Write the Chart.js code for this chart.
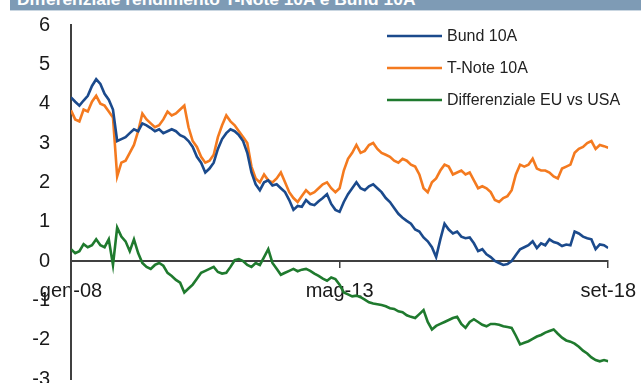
<!DOCTYPE html>
<html>
<head>
<meta charset="utf-8">
<script src="https://cdn.jsdelivr.net/npm/chart.js@4.4.1/dist/chart.umd.min.js"></script>
<style>
  html, body { margin: 0; padding: 0; background: #fff; overflow: hidden; }
  #wrap { position: relative; width: 641px; height: 383px; overflow: hidden; }
  #grafico { position: absolute; left: 0; top: -8px; }
  #titolo {
    position: absolute; left: 10px; top: 0; width: 631px; height: 10px;
    background: #7e9bb5; border-bottom: 1px solid #c9d6e1; overflow: hidden;
  }
  #titolo span {
    position: absolute; left: 7px; bottom: 0; line-height: 1; white-space: nowrap;
    font: bold 17.4px Arial, "Liberation Sans", sans-serif; color: #fff;
  }
</style>
</head>
<body>
<div id="wrap">
  <canvas id="grafico" width="648" height="420"></canvas>
  <div id="titolo"><span>Differenziale rendimento T-Note 10A e Bund 10A</span></div>
</div>
<script>
// rendimenti mensili, da gen-08 a set-18
var bund = [
  4.16, 4.05, 3.95, 4.08, 4.2, 4.45, 4.62, 4.5, 4.25, 4.1, 3.85, 3.05,
  3.1, 3.15, 3.25, 3.35, 3.3, 3.5, 3.45, 3.38, 3.3, 3.35, 3.25, 3.3,
  3.35, 3.3, 3.2, 3.15, 3.05, 2.9, 2.65, 2.5, 2.25, 2.35, 2.5, 2.85,
  3.1, 3.25, 3.35, 3.3, 3.2, 3.05, 2.75, 2.25, 1.95, 1.8, 2.0, 2.05,
  1.92, 1.95, 1.85, 1.75, 1.55, 1.3, 1.4, 1.38, 1.55, 1.45, 1.42, 1.52,
  1.6, 1.7, 1.45, 1.3, 1.25, 1.5, 1.7, 1.85, 2.0, 1.85, 1.8, 1.9,
  1.95, 1.85, 1.75, 1.6, 1.5, 1.35, 1.2, 1.1, 1.02, 0.95, 0.8, 0.75,
  0.6, 0.5, 0.35, 0.1, 0.55, 0.95, 0.8, 0.7, 0.75, 0.62, 0.58, 0.6,
  0.45, 0.25, 0.3, 0.17, 0.1, 0.0, -0.05, -0.1, -0.08, 0.0, 0.15, 0.3,
  0.35, 0.4, 0.5, 0.33, 0.45, 0.4, 0.55, 0.48, 0.45, 0.38, 0.42, 0.4,
  0.75, 0.7, 0.62, 0.58, 0.55, 0.3, 0.42, 0.4, 0.33
];
var tnote = [
  3.83, 3.6, 3.55, 3.85, 3.8, 4.05, 4.2, 4.0, 3.95, 3.8, 3.65, 2.15,
  2.5, 2.55, 2.75, 2.95, 3.3, 3.75, 3.6, 3.5, 3.4, 3.45, 3.6, 3.8,
  3.7, 3.75, 3.85, 3.95, 3.4, 3.05, 2.9, 2.65, 2.5, 2.55, 2.7, 3.15,
  3.45, 3.7, 3.55, 3.45, 3.3, 3.15, 3.0, 2.4, 2.1, 2.0, 2.2, 2.05,
  2.0, 2.1, 2.25, 2.0, 1.75, 1.6, 1.5, 1.65, 1.8, 1.7, 1.75, 1.85,
  1.95, 2.0, 1.85, 1.75, 1.85, 2.3, 2.6, 2.75, 2.95, 2.75, 2.8, 2.95,
  3.0, 2.85, 2.75, 2.7, 2.65, 2.55, 2.5, 2.6, 2.55, 2.45, 2.4, 2.2,
  1.85, 1.75, 2.0, 2.1, 2.3, 2.45, 2.4, 2.2, 2.25, 2.3, 2.2, 2.25,
  2.05, 1.85, 1.9, 1.85, 1.75, 1.55, 1.5, 1.6, 1.65, 1.8, 2.2, 2.45,
  2.4, 2.45, 2.6, 2.35, 2.3, 2.3, 2.25, 2.15, 2.1, 2.35, 2.4, 2.45,
  2.75, 2.85, 2.9, 3.0, 3.05, 2.85, 2.95, 2.92, 2.88
];
var differenziale = [
  0.3, 0.2, 0.25, 0.43, 0.35, 0.4, 0.55, 0.4, 0.35, 0.55, -0.1, 0.85,
  0.62, 0.5, 0.25, 0.55, 0.2, -0.05, -0.15, -0.2, -0.1, -0.05, -0.12, -0.3,
  -0.38, -0.48, -0.55, -0.8, -0.7, -0.6, -0.45, -0.3, -0.25, -0.2, -0.15, -0.28,
  -0.32, -0.3, -0.15, 0.02, 0.05, 0.0, -0.1, -0.15, -0.05, -0.1, 0.1, 0.3,
  -0.05, -0.2, -0.35, -0.3, -0.25, -0.2, -0.26, -0.22, -0.2, -0.25, -0.32, -0.38,
  -0.45, -0.5, -0.42, -0.46, -0.6, -0.8, -0.85, -0.9, -0.88, -0.92, -0.98, -1.05,
  -1.08, -1.1, -1.12, -1.15, -1.2, -1.22, -1.28, -1.3, -1.38, -1.42, -1.45, -1.35,
  -1.25, -1.55, -1.74, -1.65, -1.6, -1.55, -1.5, -1.45, -1.42, -1.6, -1.7, -1.55,
  -1.48, -1.55, -1.62, -1.66, -1.6, -1.6, -1.62, -1.66, -1.68, -1.7, -1.9, -2.12,
  -2.08, -2.04, -1.98, -1.92, -1.88, -1.82, -1.78, -1.74, -1.85, -1.95, -2.02, -2.05,
  -2.1, -2.18, -2.28, -2.35, -2.45, -2.52, -2.55, -2.52, -2.55
];

var tickMesi = [0, 64, 128];
var etichetteX = ['gen-08', 'mag-13', 'set-18'];

var indiceMesi = [];
for (var i = 0; i < bund.length; i++) {
  indiceMesi.push(i);
}

var font = 'Arial, "Liberation Sans", sans-serif';
var grigio = '#404040';

// legenda in alto a destra, una riga per serie (coordinate del canvas)
var legendaRighe = {
  id: 'legendaRighe',
  afterDraw: function (chart) {
    var c = chart.ctx;
    c.save();
    chart.data.datasets.forEach(function (ds, i) {
      var y = 44 + i * 32;
      c.strokeStyle = ds.borderColor;
      c.lineWidth = 2.5;
      c.beginPath();
      c.moveTo(387, y);
      c.lineTo(442, y);
      c.stroke();
      c.fillStyle = '#222';
      c.font = '16px ' + font;
      c.textBaseline = 'middle';
      c.fillText(ds.label, 447, y + 1);
    });
    c.restore();
  }
};

var ctx = document.getElementById('grafico').getContext('2d');
var grafico = new Chart(ctx, {
  type: 'line',
  data: {
    labels: indiceMesi,
    datasets: [
      { label: 'Bund 10A', data: bund, borderColor: '#1b4a8c' },
      { label: 'T-Note 10A', data: tnote, borderColor: '#f47a1f' },
      { label: 'Differenziale EU vs USA', data: differenziale, borderColor: '#1f7a2e' }
    ]
  },
  options: {
    responsive: false,
    animation: false,
    layout: { padding: { top: 4, right: 27, bottom: 0, left: 0 } },
    elements: {
      point: { radius: 0 },
      line: { borderWidth: 2.6, tension: 0 }
    },
    plugins: {
      legend: { display: false },
      tooltip: { enabled: false }
    },
    scales: {
      x: {
        type: 'linear',
        position: { y: 0 },
        min: 0,
        max: 128,
        afterFit: function (s) { s.height = 0; },
        afterBuildTicks: function (s) {
          s.ticks = tickMesi.map(function (v) { return { value: v }; });
        },
        ticks: {
          callback: function (v) { return etichetteX[tickMesi.indexOf(v)]; },
          font: { size: 20, family: font },
          color: '#1a1a1a',
          maxRotation: 0,
          padding: 12
        },
        grid: { drawOnChartArea: false, drawTicks: true, tickLength: 6, color: grigio, lineWidth: 1.5 },
        border: { display: true, color: grigio, width: 2 }
      },
      y: {
        min: -3,
        max: 6,
        afterFit: function (s) { s.width = 71; },
        ticks: {
          stepSize: 1,
          padding: 21,
          font: { size: 20, family: font },
          color: '#1a1a1a'
        },
        grid: { drawOnChartArea: false, drawTicks: false },
        border: { display: true, color: grigio, width: 2 }
      }
    }
  },
  plugins: [legendaRighe]
});
</script>
</body>
</html>
